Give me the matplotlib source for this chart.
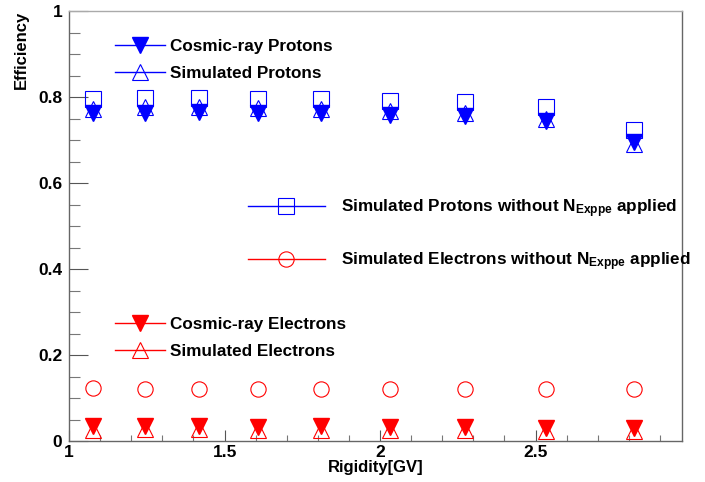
import matplotlib
matplotlib.use("Agg")
import matplotlib.pyplot as plt
from matplotlib.ticker import MultipleLocator

plt.rcParams['font.family'] = ['Liberation Sans', 'DejaVu Sans']
plt.rcParams['font.weight'] = 'bold'
plt.rcParams['mathtext.fontset'] = 'custom'
plt.rcParams['mathtext.rm'] = 'Liberation Sans:bold'
plt.rcParams['mathtext.it'] = 'Liberation Sans:bold'
plt.rcParams['mathtext.bf'] = 'Liberation Sans:bold'

# Данные
rigidity = [1.077, 1.245, 1.418, 1.609, 1.811, 2.032, 2.274, 2.534, 2.818]

cr_protons = [0.762, 0.763, 0.765, 0.763, 0.762, 0.758, 0.755, 0.745, 0.695]
sim_protons = [0.773, 0.777, 0.777, 0.774, 0.772, 0.768, 0.762, 0.750, 0.690]
sim_protons_nocut = [0.796, 0.798, 0.798, 0.795, 0.795, 0.791, 0.788, 0.776, 0.724]

cr_electrons = [0.036, 0.035, 0.035, 0.033, 0.034, 0.032, 0.032, 0.030, 0.031]
sim_electrons = [0.026, 0.027, 0.027, 0.026, 0.026, 0.025, 0.025, 0.024, 0.023]
sim_electrons_nocut = [0.124, 0.121, 0.120, 0.120, 0.120, 0.120, 0.120, 0.120, 0.120]

blue = '#0000ff'
red = '#ff0000'

fig = plt.figure(figsize=(7.05, 4.82), dpi=100)
ax = fig.add_axes([0.098, 0.085, 0.869, 0.892])

ms = 11
h1, = ax.plot(rigidity, cr_protons, 'v', color=blue, ms=ms, label='Cosmic-ray Protons')
h2, = ax.plot(rigidity, sim_protons, '^', color=blue, ms=ms, mfc='none', mew=0.8, label='Simulated Protons')
h3, = ax.plot(rigidity, sim_protons_nocut, 's', color=blue, ms=ms, mfc='none', mew=0.8,
              label=r'Simulated Protons without N$_{\mathrm{Exppe}}$ applied')
h4, = ax.plot(rigidity, sim_electrons_nocut, 'o', color=red, ms=ms, mfc='none', mew=0.8,
              label=r'Simulated Electrons without N$_{\mathrm{Exppe}}$ applied')
h5, = ax.plot(rigidity, cr_electrons, 'v', color=red, ms=ms, label='Cosmic-ray Electrons')
h6, = ax.plot(rigidity, sim_electrons, '^', color=red, ms=ms, mfc='none', mew=0.8, label='Simulated Electrons')

# Образцы в легенде с линией через маркер (как в ROOT)
def lp(h):
    c = h.get_color()
    return matplotlib.lines.Line2D([], [], color=c, lw=1, marker=h.get_marker(), ms=ms,
                                   mfc=h.get_markerfacecolor(), mec=c, mew=h.get_markeredgewidth())

fs = 12.3
leg1 = ax.legend([lp(h1), lp(h2)], [h1.get_label(), h2.get_label()], loc='center left',
                 bbox_to_anchor=(0.075, 0.887), frameon=False, fontsize=fs,
                 handlelength=2.9, handletextpad=0.3, labelspacing=0.7, borderpad=0, borderaxespad=0)
ax.add_artist(leg1)
leg2 = ax.legend([lp(h3), lp(h4)], [h3.get_label(), h4.get_label()], loc='center left',
                 bbox_to_anchor=(0.292, 0.479), frameon=False, fontsize=fs,
                 handlelength=4.5, handletextpad=0.95, labelspacing=1.8, borderpad=0, borderaxespad=0)
ax.add_artist(leg2)
leg3 = ax.legend([lp(h5), lp(h6)], [h5.get_label(), h6.get_label()], loc='center left',
                 bbox_to_anchor=(0.075, 0.24), frameon=False, fontsize=fs,
                 handlelength=2.9, handletextpad=0.3, labelspacing=0.7, borderpad=0, borderaxespad=0)

ax.set_xlim(1, 2.97)
ax.set_ylim(0, 1)
ax.xaxis.set_major_locator(MultipleLocator(0.5))
ax.xaxis.set_minor_locator(MultipleLocator(0.1))
ax.yaxis.set_major_locator(MultipleLocator(0.2))
ax.yaxis.set_minor_locator(MultipleLocator(0.05))
ax.xaxis.set_major_formatter(matplotlib.ticker.FuncFormatter(lambda v, p: f'{v:g}'))
ax.yaxis.set_major_formatter(matplotlib.ticker.FuncFormatter(lambda v, p: f'{v:g}'))

ax.tick_params(axis='y', which='major', direction='in', length=14, width=0.8, color='#555555',
               labelsize=12.5, pad=5)
ax.tick_params(axis='y', which='minor', direction='in', length=8, width=0.8, color='#777777')
ax.tick_params(axis='x', which='major', direction='in', length=8, width=0.8, color='#555555',
               labelsize=12.5, pad=3)
ax.tick_params(axis='x', which='minor', direction='in', length=4.5, width=0.8, color='#777777')
for s in ax.spines.values():
    s.set_color('#666666')
    s.set_linewidth(1)
ax.spines['top'].set_color('#aaaaaa')

ax.set_xlabel('Rigidity[GV]', fontsize=12, fontweight='bold', labelpad=0)
ax.set_ylabel('Efficiency', fontsize=12, fontweight='bold', loc='top')
ax.yaxis.set_label_coords(-0.066, 1)

fig.savefig('out.png', dpi=100)
